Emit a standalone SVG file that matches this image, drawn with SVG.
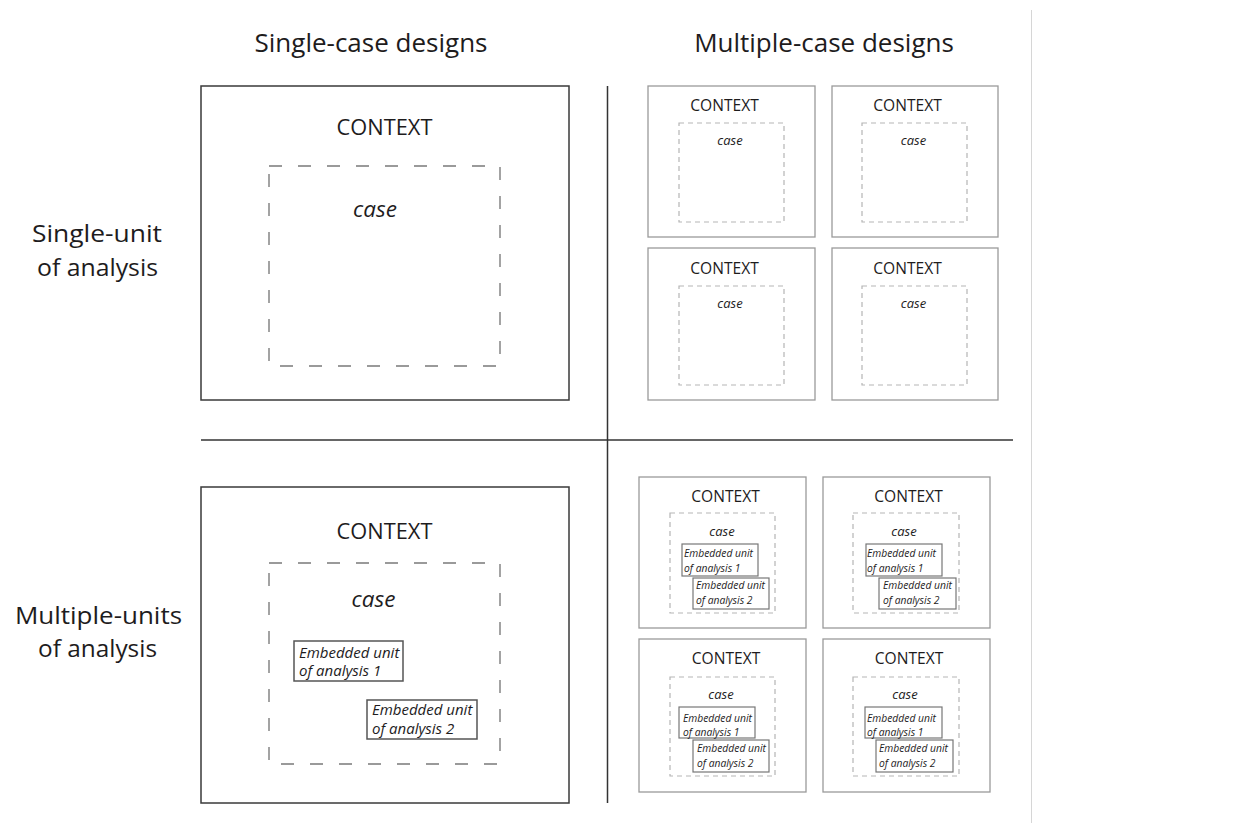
<svg xmlns="http://www.w3.org/2000/svg" width="1242" height="823" viewBox="0 0 1242 823">
<style>
text{font-family:"Open Sans","Liberation Sans",sans-serif;fill:#1e1c1d}
.hdr{font-size:26px;text-anchor:middle}
.row{font-size:24px;text-anchor:middle}
.ctxL{font-size:21.8px;text-anchor:middle}
.caseL{font-size:22.5px;font-style:italic;text-anchor:middle}
.embL{font-size:15px;font-style:italic}
.ctxS{font-size:15.6px;text-anchor:middle}
.caseS{font-size:13px;font-style:italic;text-anchor:middle}
.embS{font-size:10.3px;font-style:italic}
.outerL{fill:#fff;stroke:#3a3a3a;stroke-width:1.5}
.dashL{fill:none;stroke:#9a9a9a;stroke-width:1.8;stroke-dasharray:13 16}
.outerS{fill:#fff;stroke:#9a9a9a;stroke-width:1.3}
.dashS{fill:none;stroke:#b5b5b5;stroke-width:1.2;stroke-dasharray:5 4}
.embBoxL{fill:#fff;stroke:#555;stroke-width:1.5}
.embBoxS{fill:#fff;stroke:#777;stroke-width:1.2}
.div{stroke:#333;stroke-width:1.5}
</style>
<rect width="1242" height="823" fill="#fff"/>
<g id="connectors">
<line class="div" x1="607.5" y1="86" x2="607.5" y2="803"/>
<line class="div" x1="201" y1="440" x2="1013" y2="440"/>
<line x1="1031.5" y1="10" x2="1031.5" y2="823" stroke="#d6d6d6" stroke-width="1"/>
</g>
<g id="headers">
<text class="hdr" x="371" y="52">Single-case designs</text>
<text class="hdr" x="824" y="52">Multiple-case designs</text>
</g>
<g id="row-single">
<text class="row" x="97" y="242" textLength="130" lengthAdjust="spacingAndGlyphs">Single-unit</text>
<text class="row" x="97.5" y="276" textLength="121" lengthAdjust="spacingAndGlyphs">of analysis</text>
</g>
<g id="row-multiple">
<text class="row" x="98.5" y="624" textLength="167" lengthAdjust="spacingAndGlyphs">Multiple-units</text>
<text class="row" x="97.5" y="657" textLength="119" lengthAdjust="spacingAndGlyphs">of analysis</text>
</g>
<g id="single-single">
<rect class="outerL" x="201" y="86" width="368" height="314"/>
<text class="ctxL" x="384.5" y="135">CONTEXT</text>
<rect class="dashL" x="269" y="166" width="231" height="200"/>
<text class="caseL" x="375" y="217">case</text>
</g>
<g id="single-multiple">
<rect class="outerL" x="201" y="487" width="368" height="316"/>
<text class="ctxL" x="384.5" y="539">CONTEXT</text>
<rect class="dashL" x="269" y="563" width="231" height="201"/>
<text class="caseL" x="373.5" y="607">case</text>
<rect class="embBoxL" x="294" y="641" width="109" height="40"/>
<text class="embL" x="299" y="658">Embedded unit</text>
<text class="embL" x="299" y="676">of analysis 1</text>
<rect class="embBoxL" x="367" y="700" width="110" height="39"/>
<text class="embL" x="372" y="715">Embedded unit</text>
<text class="embL" x="372" y="734">of analysis 2</text>
</g>
<g id="multi-single-1">
<rect class="outerS" x="648" y="86" width="167" height="151"/>
<text class="ctxS" x="724.5" y="111">CONTEXT</text>
<rect class="dashS" x="679" y="123" width="105" height="99"/>
<text class="caseS" x="730" y="145">case</text>
</g>
<g id="multi-single-2">
<rect class="outerS" x="832" y="86" width="166" height="151"/>
<text class="ctxS" x="907.5" y="111">CONTEXT</text>
<rect class="dashS" x="862" y="123" width="105" height="99"/>
<text class="caseS" x="913.5" y="145">case</text>
</g>
<g id="multi-single-3">
<rect class="outerS" x="648" y="248" width="167" height="152"/>
<text class="ctxS" x="724.5" y="274">CONTEXT</text>
<rect class="dashS" x="679" y="286" width="105" height="99"/>
<text class="caseS" x="730" y="308">case</text>
</g>
<g id="multi-single-4">
<rect class="outerS" x="832" y="248" width="166" height="152"/>
<text class="ctxS" x="907.5" y="274">CONTEXT</text>
<rect class="dashS" x="862" y="286" width="105" height="99"/>
<text class="caseS" x="913.5" y="308">case</text>
</g>
<g id="multi-multiple-1">
<rect class="outerS" x="639" y="477" width="167" height="151"/>
<text class="ctxS" x="725.5" y="502">CONTEXT</text>
<rect class="dashS" x="670" y="513" width="105" height="100"/>
<text class="caseS" x="722" y="536">case</text>
<rect class="embBoxS" x="682" y="544" width="76" height="32"/>
<text class="embS" x="684" y="557">Embedded unit</text>
<text class="embS" x="684" y="572">of analysis 1</text>
<rect class="embBoxS" x="693" y="578" width="76" height="31"/>
<text class="embS" x="696" y="589">Embedded unit</text>
<text class="embS" x="696" y="604">of analysis 2</text>
</g>
<g id="multi-multiple-2">
<rect class="outerS" x="823" y="477" width="167" height="151"/>
<text class="ctxS" x="908.5" y="502">CONTEXT</text>
<rect class="dashS" x="853" y="513" width="106" height="100"/>
<text class="caseS" x="904" y="536">case</text>
<rect class="embBoxS" x="866" y="544" width="76" height="32"/>
<text class="embS" x="867" y="557">Embedded unit</text>
<text class="embS" x="867" y="572">of analysis 1</text>
<rect class="embBoxS" x="879" y="578" width="77" height="31"/>
<text class="embS" x="883" y="589">Embedded unit</text>
<text class="embS" x="883" y="604">of analysis 2</text>
</g>
<g id="multi-multiple-3">
<rect class="outerS" x="639" y="639" width="167" height="153"/>
<text class="ctxS" x="726" y="664">CONTEXT</text>
<rect class="dashS" x="670" y="677" width="105" height="99"/>
<text class="caseS" x="721" y="699">case</text>
<rect class="embBoxS" x="679" y="707" width="76" height="31"/>
<text class="embS" x="683" y="722">Embedded unit</text>
<text class="embS" x="683" y="736">of analysis 1</text>
<rect class="embBoxS" x="693" y="740" width="76" height="32"/>
<text class="embS" x="697" y="752">Embedded unit</text>
<text class="embS" x="697" y="767">of analysis 2</text>
</g>
<g id="multi-multiple-4">
<rect class="outerS" x="823" y="639" width="167" height="153"/>
<text class="ctxS" x="909" y="664">CONTEXT</text>
<rect class="dashS" x="853" y="677" width="106" height="99"/>
<text class="caseS" x="905" y="699">case</text>
<rect class="embBoxS" x="865" y="707" width="77" height="31"/>
<text class="embS" x="867" y="722">Embedded unit</text>
<text class="embS" x="867" y="736">of analysis 1</text>
<rect class="embBoxS" x="876" y="740" width="77" height="32"/>
<text class="embS" x="879" y="752">Embedded unit</text>
<text class="embS" x="879" y="767">of analysis 2</text>
</g>
</svg>
